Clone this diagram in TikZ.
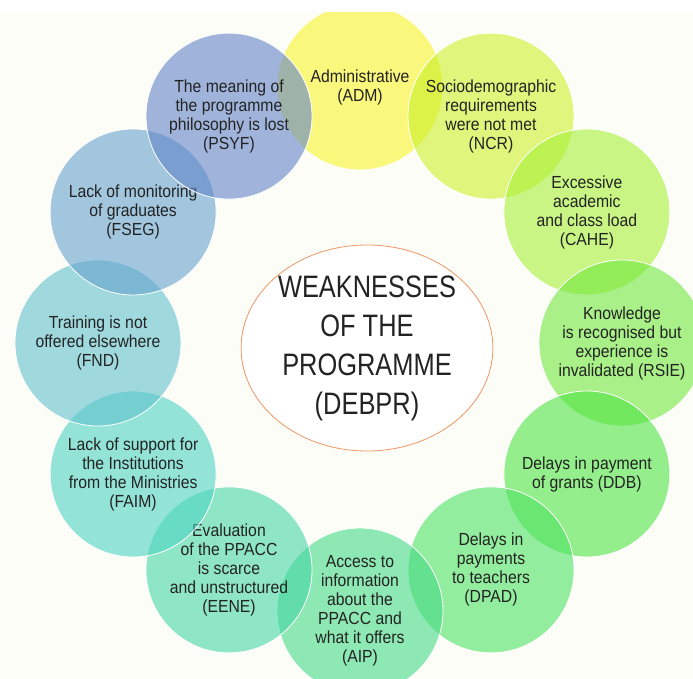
\documentclass[tikz,border=0pt]{standalone}
\usepackage{fontspec}
\setmainfont{Liberation Sans}
\newfontfamily\bubblefont[FakeStretch=0.9]{Liberation Sans}
\newfontfamily\titlefont[FakeStretch=0.82]{Liberation Sans}
\usetikzlibrary{shapes.geometric}
\definecolor{cream}{RGB}{253,253,248}
\definecolor{edgeorange}{RGB}{240,150,100}
\definecolor{inktext}{RGB}{35,35,35}
\definecolor{cadm}{RGB}{247,243,42}
\definecolor{cncr}{RGB}{203,240,40}
\definecolor{ccahe}{RGB}{165,240,53}
\definecolor{crsie}{RGB}{113,232,62}
\definecolor{cddb}{RGB}{77,228,67}
\definecolor{cdpad}{RGB}{77,227,98}
\definecolor{caip}{RGB}{68,218,133}
\definecolor{ceene}{RGB}{70,215,165}
\definecolor{cfaim}{RGB}{77,212,193}
\definecolor{cfnd}{RGB}{97,193,205}
\definecolor{cfseg}{RGB}{102,162,205}
\definecolor{cpsyf}{RGB}{98,132,200}
\tikzset{
  weak/.style={circle, minimum size=166pt, inner sep=0pt, draw=white, line width=0.8pt,
    fill opacity=0.6, text opacity=1, text=inktext, align=center,
    font=\bubblefont\fontsize{17.5}{19}\selectfont},
  hub/.style={ellipse, minimum width=248pt, minimum height=206pt, inner sep=0pt,
    draw=edgeorange, line width=0.8pt, fill=white, text=inktext, align=center,
    font=\titlefont\fontsize{31}{39}\selectfont}
}
\begin{document}
\begin{tikzpicture}[x=1pt,y=1pt]
    \useasboundingbox (-360,-336) rectangle (333,343);
    \fill[cream] (-360,-336) rectangle (333,343);
    \node[weak, fill=cadm] (adm) at (0,256) {Administrative\\(ADM)};
    \node[weak, fill=cncr] (ncr) at (60:262) {Sociodemographic\\requirements\\were not met\\(NCR)};
    \node[weak, fill=ccahe] (cahe) at (30:262) {Excessive\\academic\\and class load\\(CAHE)};
    \node[weak, fill=crsie] (rsie) at (0:262) {Knowledge\\is recognised but\\experience is\\invalidated (RSIE)};
    \node[weak, fill=cddb] (ddb) at (-30:262) {Delays in payment\\of grants (DDB)};
    \node[weak, fill=cdpad] (dpad) at (-60:262) {Delays in\\payments\\to teachers\\(DPAD)};
    \node[weak, fill=caip] (aip) at (0,-268) {Access to\\information\\about the\\PPACC and\\what it offers\\(AIP)};
    \node[weak, fill=ceene] (eene) at (-120:262) {Evaluation\\of the PPACC\\is scarce\\and unstructured\\(EENE)};
    \node[weak, fill=cfaim] (faim) at (-150:262) {Lack of support for\\the Institutions\\from the Ministries\\(FAIM)};
    \node[weak, fill=cfnd] (fnd) at (180:262) {Training is not\\offered elsewhere\\(FND)};
    \node[weak, fill=cfseg] (fseg) at (150:262) {Lack of monitoring\\of graduates\\(FSEG)};
    \node[weak, fill=cpsyf] (psyf) at (120:262) {The meaning of\\the programme\\philosophy is lost\\(PSYF)};
    \node[hub] (debpr) at (7,-5) {WEAKNESSES\\OF THE\\PROGRAMME\\(DEBPR)};
    \fill[white] (-360,331) rectangle (333,343);
\end{tikzpicture}
\end{document}
